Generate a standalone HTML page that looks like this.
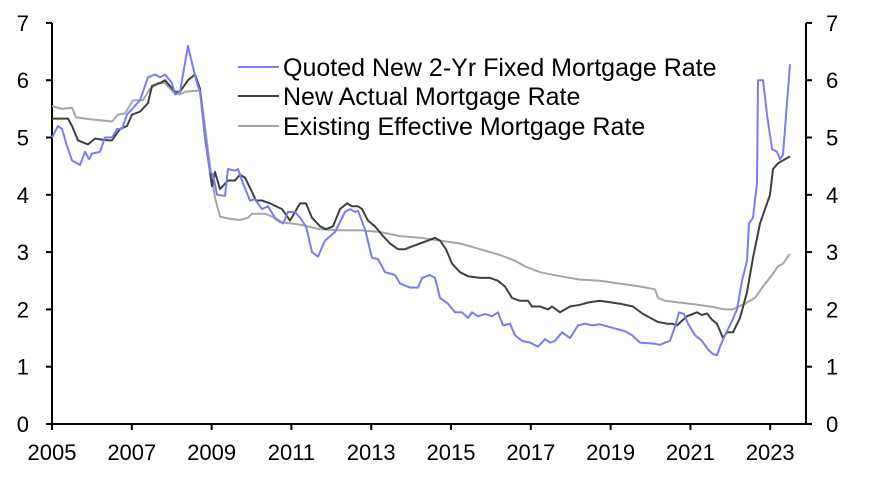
<!DOCTYPE html>
<html><head><meta charset="utf-8"><style>
html,body{margin:0;padding:0;background:#fff;}
svg{display:block;font-family:"Liberation Sans",Arial,sans-serif;}
</style></head><body>
<svg id="s" width="875" height="479" viewBox="0 0 875 479">
<g stroke="#000" stroke-width="2" fill="none">
<line x1="52" y1="23" x2="52" y2="424"/>
<line x1="806" y1="23" x2="806" y2="424"/>
<line x1="52" y1="424" x2="806" y2="424"/>
</g>
<g id="ticks" stroke="#000" stroke-width="2"></g>
<g id="lines" fill="none" stroke-width="2" stroke-linejoin="round"></g>
<g font-size="22" fill="#000" id="labels"></g>
<g stroke-width="2">
<line x1="238" y1="67" x2="279" y2="67" stroke="#7b7bf5"/>
<line x1="238" y1="96" x2="279" y2="96" stroke="#404040"/>
<line x1="238" y1="126" x2="279" y2="126" stroke="#a6a6a6"/>
</g>
<g font-size="25" fill="#000">
<text x="283" y="76">Quoted New 2-Yr Fixed Mortgage Rate</text>
<text x="283" y="105">New Actual Mortgage Rate</text>
<text x="283" y="135">Existing Effective Mortgage Rate</text>
</g>
</svg>
<script>
var ns="http://www.w3.org/2000/svg";
function Y(v){return 424-v*57.3;}
var t=document.getElementById('ticks'),L=document.getElementById('labels');
function el(p,tag,a,txt){var e=document.createElementNS(ns,tag);for(var k in a)e.setAttribute(k,a[k]);if(txt!=null)e.textContent=txt;p.appendChild(e);}
for(var i=0;i<=7;i++){var y=Y(i);
el(t,'line',{x1:46,y1:y,x2:52,y2:y});el(t,'line',{x1:806,y1:y,x2:812,y2:y});
el(L,'text',{x:29,y:y+8,'text-anchor':'end'},i);el(L,'text',{x:826,y:y+8},i);}
for(var j=0;j<=9;j++){var x=52+j*79.8;el(t,'line',{x1:x,y1:424,x2:x,y2:430});
el(L,'text',{x:x,y:460,'text-anchor':'middle'},2005+2*j);}
var blue=[52,5.0,58,5.2,62,5.15,67,4.85,72,4.6,80,4.52,85,4.75,89,4.62,92,4.72,100,4.75,105,5.0,112,5.0,117,5.15,122,5.15,127,5.4,140,5.65,148,6.05,155,6.1,160,6.05,165,6.1,172,5.95,175,5.75,180,5.8,184,6.2,188,6.6,192,6.3,197,5.95,200,5.8,205,5.0,210,4.4,213,4.35,217,4.0,225,3.98,228,4.45,235,4.42,238,4.45,243,4.2,250,3.9,255,3.92,262,3.75,268,3.8,275,3.6,283,3.5,288,3.7,295,3.7,300,3.6,306,3.45,312,3.0,318,2.92,325,3.2,335,3.35,345,3.7,350,3.75,355,3.7,358,3.72,365,3.4,372,2.9,378,2.88,385,2.65,395,2.6,400,2.45,410,2.38,418,2.38,422,2.55,430,2.6,435,2.55,440,2.2,448,2.1,455,1.95,462,1.95,468,1.85,472,1.95,478,1.88,485,1.92,492,1.88,498,1.95,503,1.72,510,1.75,515,1.55,522,1.45,530,1.42,538,1.35,545,1.48,550,1.42,555,1.45,562,1.6,570,1.5,578,1.72,585,1.75,592,1.72,600,1.74,612,1.68,625,1.62,632,1.55,640,1.42,655,1.4,660,1.38,665,1.42,670,1.45,675,1.7,679,1.95,684,1.92,688,1.75,695,1.55,702,1.45,708,1.3,713,1.22,717,1.2,720,1.35,725,1.55,732,1.8,737,2.0,742,2.5,747,2.85,749,3.5,753,3.6,757,4.2,758,6.0,763,6.0,767,5.4,772,4.8,777,4.75,780,4.62,783,4.7,790,6.28];
var dark=[52,5.33,68,5.33,72,5.2,78,4.95,88,4.88,95,4.98,108,4.95,112,4.95,120,5.15,127,5.2,132,5.4,140,5.45,148,5.6,152,5.9,160,5.95,165,6.0,175,5.8,180,5.8,188,6.0,195,6.1,200,5.85,205,5.0,210,4.4,212,4.15,215,4.4,220,4.1,228,4.25,235,4.25,240,4.35,245,4.3,252,4.05,256,3.9,262,3.9,270,3.85,282,3.75,290,3.55,295,3.7,300,3.85,306,3.85,312,3.6,320,3.45,326,3.4,333,3.45,340,3.75,347,3.85,352,3.8,358,3.8,362,3.75,368,3.55,375,3.45,382,3.3,390,3.15,398,3.05,405,3.05,412,3.1,420,3.15,428,3.2,435,3.25,440,3.2,446,3.05,452,2.8,460,2.65,468,2.58,480,2.55,490,2.55,498,2.5,505,2.4,512,2.2,520,2.15,528,2.15,532,2.05,540,2.05,548,2.0,552,2.05,560,1.95,570,2.05,580,2.08,588,2.12,600,2.15,620,2.1,633,2.05,643,1.92,658,1.78,667,1.75,672,1.75,677,1.72,687,1.88,697,1.95,702,1.9,707,1.93,712,1.82,717,1.75,723,1.5,727,1.6,733,1.6,740,1.85,747,2.3,753,2.9,760,3.5,770,4.0,773,4.45,778,4.55,790,4.67];
var gray=[52,5.55,62,5.5,72,5.52,76,5.35,90,5.32,100,5.3,112,5.28,118,5.4,125,5.42,133,5.65,143,5.65,150,5.85,158,5.95,165,5.95,173,5.8,180,5.75,185,5.8,200,5.82,205,5.2,210,4.5,215,3.95,220,3.62,230,3.58,240,3.56,248,3.6,252,3.67,265,3.67,272,3.62,280,3.52,292,3.5,300,3.48,320,3.4,340,3.38,360,3.38,380,3.35,400,3.28,420,3.25,440,3.2,460,3.15,480,3.05,500,2.95,515,2.85,525,2.75,540,2.65,560,2.58,580,2.52,600,2.5,620,2.45,640,2.4,655,2.35,658,2.2,665,2.15,690,2.1,710,2.05,725,2.0,733,2.0,745,2.1,755,2.2,763,2.4,772,2.6,778,2.75,783,2.8,790,2.97];
var g=document.getElementById('lines');
[[gray,'#a6a6a6'],[dark,'#404040'],[blue,'#7b7bf5']].forEach(function(s){var a=s[0],p='';for(var i=0;i<a.length;i+=2)p+=(i?'L':'M')+a[i]+','+Y(a[i+1]).toFixed(1);el(g,'path',{d:p,stroke:s[1]});});
</script>
</body></html>
